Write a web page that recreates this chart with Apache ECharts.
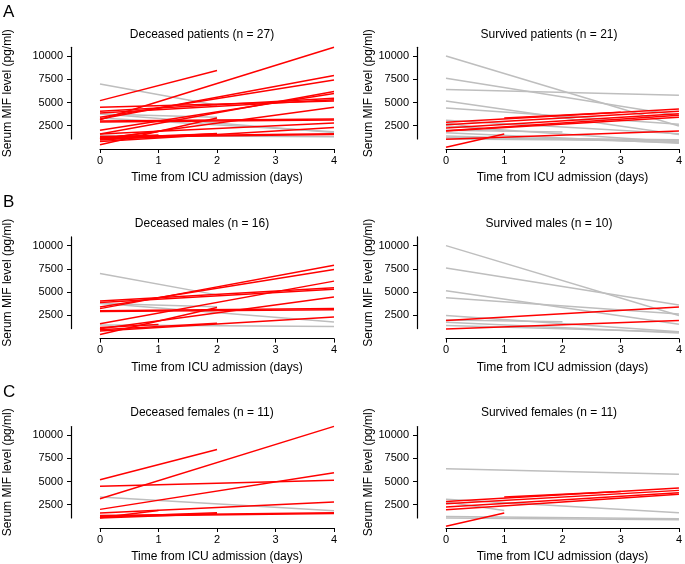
<!DOCTYPE html>
<html><head><meta charset="utf-8">
<script src="https://cdn.jsdelivr.net/npm/echarts@6/dist/echarts.min.js"></script>
<style>html,body{margin:0;padding:0;background:#fff}#c{width:685px;height:564px}</style>
</head><body><div id="c"></div>
<script>
// Each subject: [startDay, startValue, endDay, endValue]  (pg/ml)
const deceasedMales = [
  [0, 7000, 2, 4700],
  [0, 3800, 4, 1780],
  [0, 3770, 2, 3420],
  [0, 1450, 4, 1300],
  [0, 3220, 4, 7900],
  [0, 3400, 4, 7420],
  [0, 1600, 4, 6180],
  [0, 4050, 4, 5460],
  [0, 3870, 4, 5300],
  [0, 1060, 4, 4480],
  [0, 3000, 4, 3220],
  [0, 2900, 4, 3110],
  [0, 800, 4, 2320],
  [0, 440, 2, 3330],
  [0, 1200, 1, 1500],
  [0, 950, 2, 1650]
];
const deceasedFemales = [
  [0, 5200, 2, 8450],
  [0, 3150, 4, 10950],
  [0, 4500, 4, 5150],
  [0, 2000, 4, 5960],
  [0, 3330, 4, 1850],
  [0, 1600, 4, 2790],
  [0, 1350, 4, 1630],
  [0, 1165, 2, 1630],
  [0, 1090, 1, 1890],
  [0, 1060, 2, 1530],
  [0, 1250, 4, 1550]
];
const survivedMales = [
  [0, 10000, 4, 2470],
  [0, 7600, 4, 3610],
  [0, 5150, 4, 1550],
  [0, 4400, 4, 2650],
  [0, 1930, 4, 3400],
  [0, 1030, 4, 1930],
  [0, 2470, 4, 740],
  [0, 2000, 2, 1820],
  [0, 1750, 4, 600],
  [0, 1400, 4, 700]
];
const survivedFemales = [
  [0, 6390, 4, 5780],
  [0, 3080, 4, 1630],
  [0, 2790, 1, 1890],
  [0, 1240, 4, 985],
  [0, 1060, 4, 880],
  [0, 2860, 4, 4300],
  [0, 2610, 4, 4050],
  [0, 2250, 4, 3800],
  [0, 1960, 4, 3620],
  [1, 3330, 3, 3940],
  [0, 190, 1, 1600]
];
const xTicks = [0, 1, 2, 3, 4];
const yTicks = [2500, 5000, 7500, 10000];
const panelTitles = [
  'Deceased patients (n = 27)', 'Survived patients (n = 21)',
  'Deceased males (n = 16)', 'Survived males (n = 10)',
  'Deceased females (n = 11)', 'Survived females (n = 11)'
];
const rowLetters = ['A', 'B', 'C'];
const xAxisTitle = 'Time from ICU admission (days)';
const yAxisTitle = 'Serum MIF level (pg/ml)';
const riseColor = '#FF0000';
const fallColor = '#BEBEBE';

const panelData = [
  deceasedMales.concat(deceasedFemales), survivedMales.concat(survivedFemales),
  deceasedMales, survivedMales,
  deceasedFemales, survivedFemales
];

const FONT = '"Liberation Sans", Arial, Helvetica, sans-serif';
const rowTop = [47.3, 236.9, 426.5];
const rowTitleY = [33.3, 222.3, 411.7];
const colLeft = [100, 446];
const colTitleX = [202, 549];
const colNameGap = [57, 42];

const grids = [], xAxes = [], yAxes = [], series = [], titles = [];
rowLetters.forEach((L, r) => {
  titles.push({text: L, left: 3, top: rowTop[r] - 47 + 4, padding: 0,
    textStyle: {fontFamily: FONT, fontSize: 17, fontWeight: 'normal', color: '#000'}});
});
for (let i = 0; i < 6; i++) {
  const r = Math.floor(i / 2), c = i % 2;
  grids.push({left: colLeft[c], top: rowTop[r], width: 234, height: 91.7, containLabel: false});
  titles.push({text: panelTitles[i], left: colTitleX[c], top: rowTitleY[r] - 5, textAlign: 'center', padding: 0,
    textStyle: {fontFamily: FONT, fontSize: 12, fontWeight: 'normal', color: '#000'}});
  xAxes.push({
    type: 'value', gridIndex: i, min: 0, max: 4, interval: 1, offset: 10,
    name: xAxisTitle, nameLocation: 'middle', nameGap: 23, nameMoveOverlap: false,
    nameTextStyle: {fontFamily: FONT, fontSize: 12, color: '#000'},
    axisLine: {show: true, onZero: false, lineStyle: {color: '#000', width: 1.2}},
    axisTick: {show: true, length: 4, lineStyle: {color: '#000', width: 1}},
    axisLabel: {fontFamily: FONT, fontSize: 11, color: '#000', margin: 6, customValues: xTicks,
      formatter: v => String(v)},
    splitLine: {show: false}
  });
  yAxes.push({
    type: 'value', gridIndex: i, min: 1070, max: 10940, offset: 29,
    name: yAxisTitle, nameLocation: 'middle', nameGap: colNameGap[c], nameRotate: 90, nameMoveOverlap: false,
    nameTextStyle: {fontFamily: FONT, fontSize: 12, color: '#000'},
    axisLine: {show: true, onZero: false, lineStyle: {color: '#000', width: 1.2}},
    axisTick: {show: true, length: 4, lineStyle: {color: '#000', width: 1}, customValues: yTicks},
    axisLabel: {fontFamily: FONT, fontSize: 11, color: '#000', margin: 8, customValues: yTicks,
      formatter: v => String(v)},
    splitLine: {show: false}
  });
  const subs = panelData[i].slice().sort((a, b) => ((a[3] > a[1]) - (b[3] > b[1])));
  subs.forEach(s => {
    series.push({
      type: 'line', xAxisIndex: i, yAxisIndex: i, clip: false, silent: true,
      symbol: 'none', showSymbol: false,
      lineStyle: {color: s[3] > s[1] ? riseColor : fallColor, width: 1.5},
      data: [[s[0], s[1]], [s[2], s[3]]]
    });
  });
}
const chart = echarts.init(document.getElementById('c'), null, {renderer: 'canvas'});
chart.setOption({animation: false, backgroundColor: '#fff', title: titles, grid: grids,
  xAxis: xAxes, yAxis: yAxes, series: series});
</script></body></html>
